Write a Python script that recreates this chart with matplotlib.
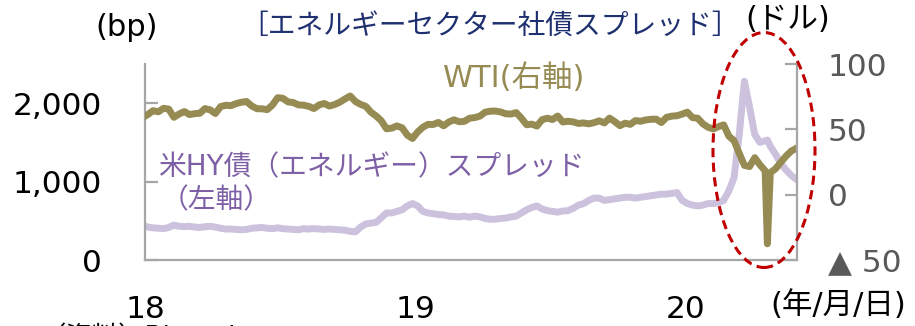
import matplotlib
matplotlib.use('Agg')
import matplotlib.pyplot as plt
import matplotlib.patches as mpatches
import pandas as pd

plt.rcParams['font.family'] = ['DejaVu Sans', 'Noto Sans CJK JP']

# weekly (Fri) data, plus 2018-01-02 start and the 2020-04-20 negative WTI day
dates = ([pd.Timestamp('2018-01-02')]
         + list(pd.date_range('2018-01-05', '2020-04-17', freq='W-FRI'))
         + [pd.Timestamp('2020-04-20')]
         + list(pd.date_range('2020-04-24', '2020-05-29', freq='W-FRI')))

wti_2018 = [60.4, 61.4, 64.3, 63.4, 66.1,
            65.5, 59.2, 61.7, 63.6,
            61.3, 62.0, 62.3, 65.9, 64.9,
            62.1, 67.4, 68.4, 68.1,
            69.7, 70.7, 71.3, 67.9,
            65.8, 65.7, 65.1, 68.6, 74.2,
            73.8, 71.0, 70.5, 68.7,
            68.5, 67.6, 65.9, 68.7, 69.8,
            67.8, 69.0, 70.8, 73.3,
            75.5, 71.3, 69.1, 67.6,
            63.1, 60.2, 56.5, 50.4, 50.9,
            52.6, 51.2, 45.6, 43.0]
wti_2019 = [48.0, 51.6, 53.8, 53.7,
            55.3, 52.7, 55.6, 57.3,
            55.8, 56.1, 58.5, 59.0, 60.1,
            63.1, 63.9, 64.0, 63.3,
            61.9, 61.7, 62.8, 58.6, 53.5,
            54.0, 52.5, 57.4, 58.5,
            57.5, 60.2, 55.6, 56.2,
            55.7, 54.5, 54.9, 54.2, 55.1,
            56.5, 54.9, 58.6, 55.9,
            52.8, 54.7, 53.8, 56.7,
            56.2, 57.2, 57.7, 57.8, 55.2,
            59.2, 60.1, 60.4, 61.7]
wti_2020 = [63.1, 59.0, 58.5, 54.2, 51.6,
            50.3, 52.1, 53.4, 44.8,
            41.3, 31.7, 22.4, 21.5,
            28.3, 22.8, 18.3, -37.6, 16.9,
            19.8, 24.7, 29.4, 33.3, 35.5]

spread_2018 = [430, 420, 410, 405, 400,
               415, 445, 430, 425,
               430, 420, 415, 425, 430,
               420, 405, 395, 395,
               390, 385, 390, 405,
               410, 415, 405, 400, 410,
               400, 395, 390, 385,
               400, 395, 400, 395, 390,
               395, 390, 385, 380,
               365, 360, 420, 460,
               470, 480, 540, 600, 600,
               620, 640, 690, 720]
spread_2019 = [690, 620, 600, 590,
               580, 575, 560, 555,
               550, 560, 545, 560, 550,
               530, 520, 520, 530,
               535, 550, 560, 600, 640,
               670, 690, 650, 630,
               620, 610, 625, 630,
               660, 700, 720, 760, 790,
               790, 760, 770, 780,
               790, 800, 800, 790,
               800, 810, 820, 830, 840,
               840, 850, 860, 760]
spread_2020 = [720, 700, 690, 700, 720,
               720, 730, 760, 880,
               1050, 1600, 2280, 1950,
               1600, 1500, 1520, 1530, 1450,
               1350, 1230, 1150, 1080, 1030]

wti = wti_2018 + wti_2019 + wti_2020
spread = spread_2018 + spread_2019 + spread_2020

left_ticks = [0, 1000, 2000]
left_labels = ['0', '1,000', '2,000']
right_ticks = [-50, 0, 50, 100]
right_labels = ['▲ 50', '0', '50', '100']
x_ticks = [pd.Timestamp('2018-01-01'), pd.Timestamp('2019-01-01'), pd.Timestamp('2020-01-01')]
x_labels = ['18', '19', '20']

W, H = 915, 326
fig = plt.figure(figsize=(W / 100, H / 100), dpi=100)
ax = fig.add_axes([145 / W, 66 / H, 652 / W, 196 / H])
ax2 = ax.twinx()

grey = '#A6A6A6'
ax.plot(dates, spread, color='#CCC2DD', lw=5, solid_joinstyle='round')
ax2.plot(dates, wti, color='#978B54', lw=5, solid_joinstyle='round')

ax.set_xlim(pd.Timestamp('2018-01-01'), pd.Timestamp('2020-05-30'))
ax.set_ylim(0, 2500)
ax2.set_ylim(-50, 100)

ax.set_yticks(left_ticks)
ax.set_yticklabels(left_labels)
ax2.set_yticks(right_ticks)
ax2.set_yticklabels(right_labels)
ax.set_xticks(x_ticks)
ax.set_xticklabels(x_labels)

for a in (ax, ax2):
    a.spines['top'].set_visible(False)
    for s in a.spines.values():
        s.set_color(grey)
        s.set_linewidth(1.6)
ax.spines['right'].set_visible(False)
ax2.spines['left'].set_visible(False)
ax2.spines['bottom'].set_visible(False)

ax.tick_params(axis='y', direction='in', length=9, width=1.6, color=grey,
               pad=31, labelsize=22.5, labelcolor='black')
ax.tick_params(axis='x', length=0, pad=25, labelsize=22.5, labelcolor='black')
ax2.tick_params(axis='y', direction='in', length=9, width=1.6, color=grey,
                pad=22, labelsize=22.5, labelcolor='#595959')


def px(x, y):
    return x / W, 1 - y / H


fig.text(*px(240, 26), '［エネルギーセクター社債スプレッド］', color='#1F3070',
         fontsize=20, va='center', ha='left')
fig.text(*px(95, 27), '(bp)', fontsize=22, va='center', ha='left')
fig.text(*px(745, 20), '(ドル)', fontsize=22, va='center', ha='left')
fig.text(*px(443, 78), 'WTI(右軸)', color='#978B54', fontsize=22, va='center', ha='left')
fig.text(*px(158, 167), '米HY債（エネルギー）スプレッド', color='#7D60A6',
         fontsize=20, va='center', ha='left')
fig.text(*px(161, 200), '（左軸）', color='#7D60A6', fontsize=20, va='center', ha='left')
fig.text(*px(770, 305), '(年/月/日)', fontsize=22, va='center', ha='left')
# source note, cut off by the bottom edge as in the original
fig.text(*px(40, 322), '（資料）Bloomberg', fontsize=19, va='top', ha='left')

ell = mpatches.Ellipse(px(764, 150), 102 / W, 235 / H, fill=False,
                       edgecolor='#C00000', lw=2.2, linestyle=(0, (3, 1.8)),
                       transform=fig.transFigure, zorder=5)
fig.add_artist(ell)

fig.savefig('out.png', dpi=100)
